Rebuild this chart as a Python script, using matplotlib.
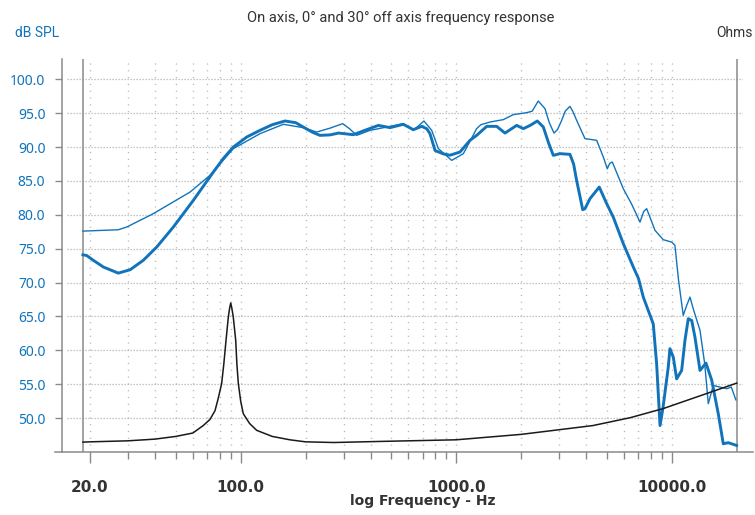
import matplotlib
matplotlib.use("Agg")
import matplotlib.pyplot as plt
from matplotlib.lines import Line2D
from matplotlib.ticker import FixedLocator, NullFormatter

# ---------------- data ----------------
f_30 = [18.55, 19.3, 20.7, 23.07, 27.05, 30.7, 35.3, 40.76, 48.7, 60.3, 74.6, 83.0,
        92.4, 106.6, 122.9, 140, 160.5, 180, 195, 215, 233, 260, 284, 333, 384, 435,
        493, 568, 632, 691, 730, 755, 797, 870, 935, 1040, 1158, 1243, 1384, 1539,
        1682, 1905, 2046, 2200, 2375, 2533, 2680, 2818, 3027, 3366, 3500, 3615,
        3858, 3950, 4170, 4603, 4984, 5346, 5952, 6622, 7000, 7368, 8196, 8497,
        8810, 9100, 9617, 9795, 10150, 10520, 11100, 11500, 11910, 12360, 12790,
        13500, 14390, 15300, 16410, 17310, 18270, 19950]
spl_30 = [74.1, 74.0, 73.3, 72.3, 71.4, 71.9, 73.28, 75.24, 78.2, 82.14, 86.3, 88.3,
          90.0, 91.48, 92.47, 93.3, 93.85, 93.6, 92.96, 92.2, 91.73, 91.8, 92.07,
          91.83, 92.57, 93.2, 92.87, 93.36, 92.57, 93.06, 92.7, 91.98, 89.5, 89.0,
          88.8, 89.27, 91.0, 91.73, 93.06, 93.06, 92.07, 93.2, 92.72, 93.2, 93.85,
          92.96, 90.6, 88.78, 89.03, 88.93, 87.5, 85.09, 80.76, 80.9, 82.39, 84.1,
          81.65, 79.67, 75.74, 72.3, 70.6, 67.86, 63.9, 58.0, 48.9, 51.6, 57.5,
          60.25, 59.0, 55.8, 57.04, 61.5, 64.67, 64.4, 61.96, 57.04, 58.12, 55.6,
          50.65, 46.22, 46.37, 45.97]

f_0 = [18.55, 27.05, 29.6, 39.3, 58.2, 72.0, 92.4, 122.9, 157.6, 195, 225, 260,
       297, 320, 345, 398, 493, 568, 632, 708, 769, 826, 952, 1078, 1243, 1300,
       1433, 1652, 1838, 2121, 2250, 2399, 2579, 2700, 2839, 2950, 3082, 3200,
       3366, 3480, 3615, 3952, 4478, 4808, 5015, 5150, 5291, 5952, 6500, 7113,
       7400, 7640, 8349, 9120, 9977, 10330, 10740, 11290, 11700, 12130, 12600,
       13500, 14200, 14750, 15560, 16710, 17950, 18860, 19800]
spl_0 = [77.6, 77.8, 78.2, 80.17, 83.36, 85.83, 89.77, 91.98, 93.36, 92.87, 92.22,
         92.8, 93.46, 92.7, 91.73, 92.47, 93.06, 93.46, 92.47, 93.85, 92.47, 89.77,
         88.04, 89.03, 92.72, 93.3, 93.7, 94.05, 94.79, 95.08, 95.3, 96.8, 95.67,
         93.6, 92.07, 92.6, 93.95, 95.3, 96.01, 95.2, 93.95, 91.25, 91.0, 88.53,
         86.8, 87.6, 87.8, 83.86, 81.6, 78.93, 80.5, 80.91, 77.71, 76.33, 75.98,
         75.5, 70.3, 65.16, 66.6, 67.86, 66.0, 62.95, 58.0, 52.13, 54.83, 54.58,
         54.34, 54.58, 52.7]

f_imp = [18.55, 20, 30, 40, 50, 60, 67, 72, 76, 78.5, 81.6, 83.5, 85.5, 87.6, 88.8,
         89.9, 91.0, 92.4, 94.8, 96.0, 97.5, 100, 102.8, 110, 118.6, 140, 169, 200,
         270, 443, 1000, 2000, 4300, 6400, 9100, 20000]
ohm_imp = [5.03, 5.17, 5.69, 6.55, 7.93, 9.66, 13.45, 16.55, 21.03, 26.9, 34.83,
           44.83, 56.9, 68.62, 73.1, 75.86, 73.1, 68.62, 56.9, 44.83, 34.83, 25.86,
           19.48, 14.48, 11.03, 7.93, 6.21, 5.17, 4.83, 5.38, 6.21, 8.97, 13.45,
           17.45, 22.07, 35.07]

y_ticks = [50, 55, 60, 65, 70, 75, 80, 85, 90, 95, 100]
x_major = [20, 100, 1000, 10000]
x_major_labels = ["20.0", "100.0", "1000.0", "10000.0"]
x_minor = [30, 40, 50, 60, 70, 80, 90, 200, 300, 400, 500, 600, 700, 800, 900,
           2000, 3000, 4000, 5000, 6000, 7000, 8000, 9000]
f_start, f_end = 18.55, 20000

title = "On axis, 0° and 30° off axis frequency response"

# ---------------- style ----------------
BLUE = "#1174bb"
GRID = "#b4b4b4"
AXC = "#8a8a8a"
DARK = "#333333"

W, H = 755, 515
fig = plt.figure(figsize=(W / 100, H / 100), dpi=100)
ax = fig.add_axes([62 / W, 63 / H, (743 - 62) / W, 393 / H])
ax.set_xscale("log")
ax.set_xlim(14.83, 21370)
ax.set_ylim(45, 103)

# grid
for yv in y_ticks:
    ax.axhline(yv, xmin=0.007, color=GRID, lw=0.9, ls=(0, (1, 1.4)), zorder=1)
for xv in x_major[:] + x_minor:
    ax.axvline(xv, color=GRID, lw=1.0, ls=(0, (0.8, 4.1)), zorder=1)

# boundary lines of data range
ax.axvline(f_start, color=AXC, lw=1.1, zorder=2)
ax.axvline(f_end, color=AXC, lw=1.1, zorder=2)

# curves
ax.plot(f_0, spl_0, color=BLUE, lw=1.0, zorder=4, solid_joinstyle="round")
ax.plot(f_30, spl_30, color=BLUE, lw=2.1, zorder=5, solid_joinstyle="round")

ax2 = ax.twinx()
ax2.set_ylim(0, 200)
ax2.plot(f_imp, ohm_imp, color="#1a1a1a", lw=1.1, zorder=3)
ax2.set_yticks([])
for s in ax2.spines.values():
    s.set_visible(False)

# spines
for s in ["top", "right", "bottom"]:
    ax.spines[s].set_visible(False)
ax.spines["left"].set_color(AXC)
ax.spines["left"].set_linewidth(1.1)
fig.add_artist(Line2D([55 / W, 753 / W], [63 / H, 63 / H], color=AXC, lw=1.1))

# ticks
ax.set_yticks(y_ticks)
ax.set_yticklabels([f"{v:.1f}" for v in y_ticks])
ax.tick_params(axis="y", direction="out", length=5, width=1.0, color=AXC,
               pad=7, labelcolor=BLUE, labelsize=10)
for lab in ax.get_yticklabels():
    lab.set_fontfamily("Noto Sans")

ax.xaxis.set_major_locator(FixedLocator(x_major))
ax.xaxis.set_minor_locator(FixedLocator(x_minor))
ax.xaxis.set_minor_formatter(NullFormatter())
ax.set_xticklabels(x_major_labels)
ax.tick_params(axis="x", which="major", direction="out", length=8, width=1.0,
               color=AXC, pad=12, labelcolor=DARK, labelsize=11)
ax.tick_params(axis="x", which="minor", direction="out", length=5, width=1.0,
               color=AXC)
for lab in ax.get_xticklabels():
    lab.set_fontfamily("DejaVu Sans")
    lab.set_fontweight("bold")

# texts
fig.text(401 / W, 1 - 18 / H, title, ha="center", va="center",
         fontsize=10.6, color=DARK, family="Roboto")
fig.text(15 / W, 1 - 33 / H, "dB SPL", ha="left", va="center",
         fontsize=10, color=BLUE, family="Roboto")
fig.text(753 / W, 1 - 33 / H, "Ohms", ha="right", va="center",
         fontsize=10, color=DARK, family="Roboto")
fig.text(423 / W, 1 - 501 / H, "log Frequency - Hz", ha="center", va="center",
         fontsize=10, color=DARK, family="DejaVu Sans", fontweight="bold")

fig.savefig("out.png", dpi=100)
